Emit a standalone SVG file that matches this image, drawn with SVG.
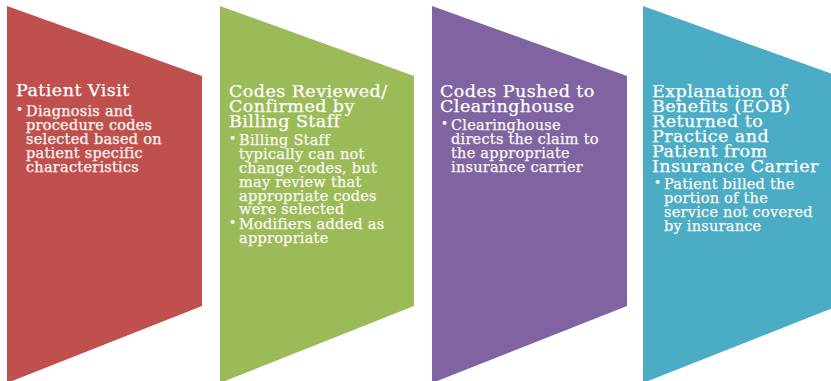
<svg xmlns="http://www.w3.org/2000/svg" width="831" height="381" viewBox="0 0 831 381">
<style>
.bg{fill:#ffffff}
.t{font-family:"DejaVu Serif","Liberation Serif",serif;fill:#ffffff;stroke:#ffffff;stroke-width:0.25}
.h{font-size:17.5px;letter-spacing:0.45px}
.b{font-size:14.5px;letter-spacing:0.25px;fill:#fbf7f2;stroke:#fbf7f2}
.d{font-size:12px;fill:#fbf7f2}
</style>
<rect class="bg" x="0" y="0" width="831" height="381"/>
<g id="node1">
<polygon points="7,6 202,76 202,306 7,383" fill="#C0504D"/>
<text class="t h" x="16" y="96">Patient Visit</text>
<text class="t d" x="16" y="114">•</text>
<text class="t b"><tspan x="26" y="116">Diagnosis and</tspan><tspan x="26" y="130">procedure codes</tspan><tspan x="26" y="144">selected based on</tspan><tspan x="26" y="158">patient specific</tspan><tspan x="26" y="172">characteristics</tspan></text>
</g>
<g id="node2">
<polygon points="220,6 414,76 414,306 220,383" fill="#9BBB59"/>
<text class="t h"><tspan x="229" y="97">Codes Reviewed/</tspan><tspan x="229" y="112">Confirmed by</tspan><tspan x="229" y="127">Billing Staff</tspan></text>
<text class="t d" x="229" y="143">•</text>
<text class="t b"><tspan x="239" y="145">Billing Staff</tspan><tspan x="239" y="159">typically can not</tspan><tspan x="239" y="173">change codes, but</tspan><tspan x="239" y="187">may review that</tspan><tspan x="239" y="201">appropriate codes</tspan><tspan x="239" y="214">were selected</tspan></text>
<text class="t d" x="229" y="227">•</text>
<text class="t b"><tspan x="239" y="229">Modifiers added as</tspan><tspan x="239" y="243">appropriate</tspan></text>
</g>
<g id="node3">
<polygon points="432,6 627,76 627,306 432,383" fill="#8064A2"/>
<text class="t h"><tspan x="440" y="97">Codes Pushed to</tspan><tspan x="440" y="112">Clearinghouse</tspan></text>
<text class="t d" x="441" y="128">•</text>
<text class="t b"><tspan x="451" y="130">Clearinghouse</tspan><tspan x="451" y="144">directs the claim to</tspan><tspan x="451" y="158">the appropriate</tspan><tspan x="451" y="172">insurance carrier</tspan></text>
</g>
<g id="node4">
<polygon points="643,6 838,76 838,306 643,383" fill="#4BACC6"/>
<text class="t h"><tspan x="652" y="97">Explanation of</tspan><tspan x="652" y="112">Benefits (EOB)</tspan><tspan x="652" y="127">Returned to</tspan><tspan x="652" y="142">Practice and</tspan><tspan x="652" y="157">Patient from</tspan><tspan x="652" y="172">Insurance Carrier</tspan></text>
<text class="t d" x="654" y="187">•</text>
<text class="t b"><tspan x="664" y="189">Patient billed the</tspan><tspan x="664" y="203">portion of the</tspan><tspan x="664" y="217">service not covered</tspan><tspan x="664" y="231">by insurance</tspan></text>
</g>
<g id="connectors"></g>
</svg>
